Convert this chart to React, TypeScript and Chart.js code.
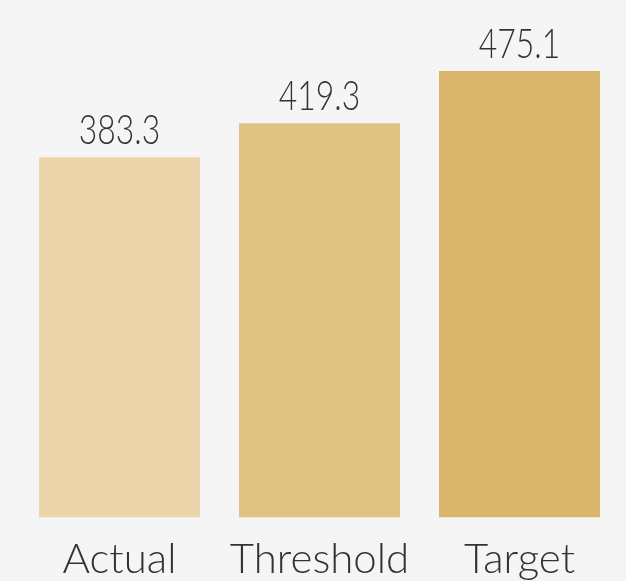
import React, { useEffect, useRef } from "react";
import { Chart, registerables } from "chart.js";

Chart.register(...registerables);

const categories = ["Actual", "Threshold", "Target"];
const values = [383.3, 419.3, 475.1];
const barColors = ["#EDD5AB", "#E0C283", "#D9B66A"];

const FONT_FAMILY = "Lato, 'Open Sans', sans-serif";
const TEXT_COLOR = "#333333";

const valueLabelPlugin = {
  id: "valueLabels",
  afterDatasetsDraw(chart: any) {
    const ctx = chart.ctx;
    const meta = chart.getDatasetMeta(0);
    ctx.save();
    ctx.font = `300 42px ${FONT_FAMILY}`;
    ctx.fillStyle = TEXT_COLOR;
    ctx.textAlign = "center";
    ctx.textBaseline = "alphabetic";
    meta.data.forEach((bar: any, i: number) => {
      const text = values[i].toFixed(1);
      const w = ctx.measureText(text).width;
      ctx.fillText(text, bar.x, bar.y - 13, w * 0.76);
    });
    ctx.restore();
  },
};

export default function App() {
  const ref = useRef<HTMLCanvasElement | null>(null);

  useEffect(() => {
    document.body.style.margin = "0";
    document.body.style.background = "#F5F5F5";
    if (!ref.current) return;
    const chart = new Chart(ref.current, {
      type: "bar",
      data: {
        labels: categories,
        datasets: [
          {
            data: values,
            backgroundColor: barColors,
            borderWidth: 0,
            categoryPercentage: 1,
            barPercentage: 0.805,
          },
        ],
      },
      options: {
        animation: false,
        responsive: false,
        maintainAspectRatio: false,
        layout: { padding: { left: 19.5, right: 6.5, top: 47.5, bottom: -13 } },
        plugins: {
          legend: { display: false },
          tooltip: { enabled: false },
        },
        scales: {
          y: { display: false, min: 0, max: 500 },
          x: {
            grid: { display: false },
            border: { display: false },
            ticks: {
              color: TEXT_COLOR,
              font: { family: FONT_FAMILY, size: 42, weight: "300" as any },
              padding: 9,
              maxRotation: 0,
            },
          },
        },
      },
      plugins: [valueLabelPlugin],
    });
    return () => chart.destroy();
  }, []);

  return (
    <div style={{ width: 626, height: 581, background: "#F5F5F5" }}>
      <canvas ref={ref} width={626} height={581} />
    </div>
  );
}
